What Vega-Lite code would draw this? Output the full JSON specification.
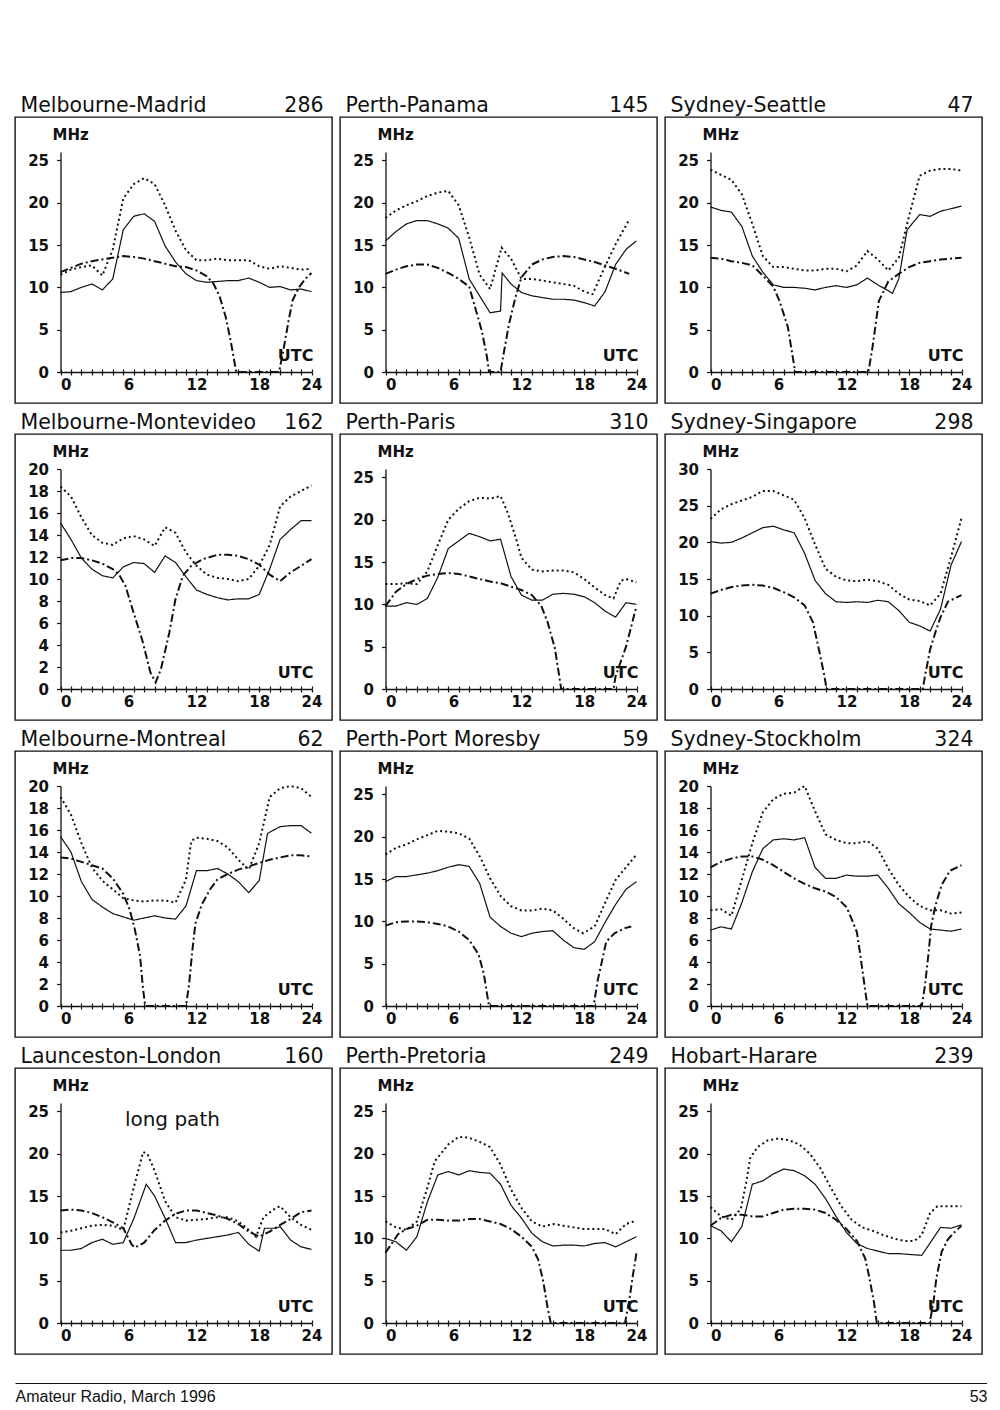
{
  "$schema": "https://vega.github.io/schema/vega-lite/v6.json",
  "background": "white",
  "padding": {"left": 12, "top": 94, "right": 0, "bottom": 0},
  "datasets": {
    "mm": [
      {"s":"mid","h":0,"v":9.4},{"s":"mid","h":1,"v":9.5},{"s":"mid","h":2,"v":10.0},{"s":"mid","h":3,"v":10.4},{"s":"mid","h":4,"v":9.7},{"s":"mid","h":5,"v":11.0},{"s":"mid","h":6,"v":16.8},{"s":"mid","h":7,"v":18.4},{"s":"mid","h":8,"v":18.7},{"s":"mid","h":9,"v":17.8},{"s":"mid","h":10,"v":14.9},{"s":"mid","h":11,"v":13.0},{"s":"mid","h":12,"v":11.6},{"s":"mid","h":13,"v":10.8},{"s":"mid","h":14,"v":10.6},{"s":"mid","h":15,"v":10.7},{"s":"mid","h":16,"v":10.8},{"s":"mid","h":17,"v":10.8},{"s":"mid","h":18,"v":11.1},{"s":"mid","h":19,"v":10.6},{"s":"mid","h":20,"v":10.0},{"s":"mid","h":21,"v":10.1},{"s":"mid","h":22,"v":9.7},{"s":"mid","h":23,"v":9.8},{"s":"mid","h":24,"v":9.5},
      {"s":"hi","h":0,"v":11.5},{"s":"hi","h":1,"v":12.1},{"s":"hi","h":2,"v":12.4},{"s":"hi","h":3,"v":12.6},{"s":"hi","h":4,"v":11.4},{"s":"hi","h":5,"v":14.5},{"s":"hi","h":6,"v":20.5},{"s":"hi","h":7,"v":22.2},{"s":"hi","h":8,"v":22.9},{"s":"hi","h":9,"v":22.2},{"s":"hi","h":10,"v":19.7},{"s":"hi","h":11,"v":16.7},{"s":"hi","h":12,"v":14.4},{"s":"hi","h":13,"v":13.2},{"s":"hi","h":14,"v":13.2},{"s":"hi","h":15,"v":13.4},{"s":"hi","h":16,"v":13.2},{"s":"hi","h":17,"v":13.2},{"s":"hi","h":18,"v":13.2},{"s":"hi","h":19,"v":12.5},{"s":"hi","h":20,"v":12.2},{"s":"hi","h":21,"v":12.5},{"s":"hi","h":22,"v":12.3},{"s":"hi","h":23,"v":12.1},{"s":"hi","h":24,"v":12.2},
      {"s":"lo","h":0,"v":11.8},{"s":"lo","h":1,"v":12.3},{"s":"lo","h":2,"v":12.8},{"s":"lo","h":3,"v":13.1},{"s":"lo","h":4,"v":13.3},{"s":"lo","h":5,"v":13.5},{"s":"lo","h":6,"v":13.7},{"s":"lo","h":7,"v":13.6},{"s":"lo","h":8,"v":13.4},{"s":"lo","h":9,"v":13.1},{"s":"lo","h":10,"v":12.8},{"s":"lo","h":11,"v":12.5},{"s":"lo","h":12,"v":12.4},{"s":"lo","h":13,"v":12.0},{"s":"lo","h":14,"v":11.3},{"s":"lo","h":14.6,"v":10.5},{"s":"lo","h":15.2,"v":9.0},{"s":"lo","h":15.8,"v":6.5},{"s":"lo","h":16.3,"v":3.5},{"s":"lo","h":16.8,"v":0},{"s":"lo","h":20.9,"v":0},{"s":"lo","h":21.3,"v":2.5},{"s":"lo","h":21.8,"v":6.0},{"s":"lo","h":22.2,"v":8.5},{"s":"lo","h":22.8,"v":10.0},{"s":"lo","h":23.4,"v":11.0},{"s":"lo","h":24,"v":11.7}
    ],
    "pp": [
      {"s":"mid","h":0,"v":15.5},{"s":"mid","h":1,"v":16.6},{"s":"mid","h":2,"v":17.5},{"s":"mid","h":3,"v":17.9},{"s":"mid","h":4,"v":17.9},{"s":"mid","h":5,"v":17.5},{"s":"mid","h":6,"v":17.0},{"s":"mid","h":7,"v":15.8},{"s":"mid","h":8,"v":11.0},{"s":"mid","h":9,"v":9.0},{"s":"mid","h":10,"v":7.0},{"s":"mid","h":11,"v":7.2},{"s":"mid","h":11.15,"v":11.7},{"s":"mid","h":12,"v":10.4},{"s":"mid","h":13,"v":9.4},{"s":"mid","h":14,"v":9.0},{"s":"mid","h":15,"v":8.8},{"s":"mid","h":16,"v":8.6},{"s":"mid","h":17,"v":8.6},{"s":"mid","h":18,"v":8.5},{"s":"mid","h":19,"v":8.2},{"s":"mid","h":20,"v":7.8},{"s":"mid","h":21,"v":9.5},{"s":"mid","h":22,"v":12.7},{"s":"mid","h":23,"v":14.5},{"s":"mid","h":24,"v":15.5},
      {"s":"hi","h":0,"v":18.2},{"s":"hi","h":1,"v":19.1},{"s":"hi","h":2,"v":19.7},{"s":"hi","h":3,"v":20.2},{"s":"hi","h":4,"v":20.8},{"s":"hi","h":5,"v":21.2},{"s":"hi","h":6,"v":21.4},{"s":"hi","h":7,"v":19.7},{"s":"hi","h":8,"v":15.9},{"s":"hi","h":9,"v":11.5},{"s":"hi","h":10,"v":9.8},{"s":"hi","h":11.1,"v":14.7},{"s":"hi","h":12,"v":13.4},{"s":"hi","h":13,"v":11.0},{"s":"hi","h":14,"v":11.0},{"s":"hi","h":15,"v":10.8},{"s":"hi","h":16,"v":10.6},{"s":"hi","h":17,"v":10.4},{"s":"hi","h":18,"v":10.2},{"s":"hi","h":19,"v":9.5},{"s":"hi","h":19.8,"v":9.2},{"s":"hi","h":21,"v":12.5},{"s":"hi","h":22,"v":15.1},{"s":"hi","h":23.3,"v":18.0},
      {"s":"lo","h":0,"v":11.6},{"s":"lo","h":1,"v":12.1},{"s":"lo","h":2,"v":12.5},{"s":"lo","h":3,"v":12.7},{"s":"lo","h":4,"v":12.7},{"s":"lo","h":5,"v":12.3},{"s":"lo","h":6,"v":11.7},{"s":"lo","h":7,"v":11.0},{"s":"lo","h":8,"v":10.1},{"s":"lo","h":8.6,"v":7.5},{"s":"lo","h":9.2,"v":4.9},{"s":"lo","h":9.7,"v":1.8},{"s":"lo","h":9.9,"v":0},{"s":"lo","h":11.0,"v":0},{"s":"lo","h":11.3,"v":2.2},{"s":"lo","h":11.8,"v":5.6},{"s":"lo","h":12.4,"v":8.7},{"s":"lo","h":13,"v":11.2},{"s":"lo","h":14,"v":12.7},{"s":"lo","h":15,"v":13.3},{"s":"lo","h":16,"v":13.6},{"s":"lo","h":17,"v":13.7},{"s":"lo","h":18,"v":13.6},{"s":"lo","h":19,"v":13.3},{"s":"lo","h":20,"v":13.0},{"s":"lo","h":21,"v":12.6},{"s":"lo","h":22,"v":12.2},{"s":"lo","h":23.3,"v":11.6}
    ],
    "ss": [
      {"s":"mid","h":0,"v":19.5},{"s":"mid","h":1,"v":19.1},{"s":"mid","h":2,"v":18.9},{"s":"mid","h":3,"v":17.2},{"s":"mid","h":4,"v":13.7},{"s":"mid","h":5,"v":11.8},{"s":"mid","h":6,"v":10.3},{"s":"mid","h":7,"v":10.0},{"s":"mid","h":8,"v":10.0},{"s":"mid","h":9,"v":9.9},{"s":"mid","h":10,"v":9.7},{"s":"mid","h":11,"v":10.0},{"s":"mid","h":12,"v":10.2},{"s":"mid","h":13,"v":10.0},{"s":"mid","h":14,"v":10.3},{"s":"mid","h":15,"v":11.1},{"s":"mid","h":16,"v":10.3},{"s":"mid","h":17,"v":9.6},{"s":"mid","h":17.4,"v":9.3},{"s":"mid","h":18,"v":11.0},{"s":"mid","h":18.8,"v":16.8},{"s":"mid","h":20,"v":18.6},{"s":"mid","h":21,"v":18.4},{"s":"mid","h":22,"v":19.0},{"s":"mid","h":23,"v":19.3},{"s":"mid","h":24,"v":19.6},
      {"s":"hi","h":0,"v":23.9},{"s":"hi","h":1,"v":23.3},{"s":"hi","h":2,"v":22.7},{"s":"hi","h":3,"v":21.0},{"s":"hi","h":4,"v":17.5},{"s":"hi","h":5,"v":13.7},{"s":"hi","h":6,"v":12.4},{"s":"hi","h":7,"v":12.4},{"s":"hi","h":8,"v":12.2},{"s":"hi","h":9,"v":12.0},{"s":"hi","h":10,"v":12.0},{"s":"hi","h":11,"v":12.2},{"s":"hi","h":12,"v":12.2},{"s":"hi","h":13,"v":11.9},{"s":"hi","h":14,"v":12.6},{"s":"hi","h":15,"v":14.3},{"s":"hi","h":16,"v":13.3},{"s":"hi","h":17,"v":12.0},{"s":"hi","h":18,"v":13.5},{"s":"hi","h":19,"v":18.5},{"s":"hi","h":20,"v":23.2},{"s":"hi","h":21,"v":23.8},{"s":"hi","h":22,"v":24.0},{"s":"hi","h":23,"v":24.0},{"s":"hi","h":24,"v":23.8},
      {"s":"lo","h":0,"v":13.5},{"s":"lo","h":1,"v":13.4},{"s":"lo","h":2,"v":13.1},{"s":"lo","h":3,"v":12.9},{"s":"lo","h":4,"v":12.6},{"s":"lo","h":5,"v":11.4},{"s":"lo","h":6,"v":10.1},{"s":"lo","h":6.6,"v":8.4},{"s":"lo","h":7.4,"v":5.3},{"s":"lo","h":7.9,"v":1.5},{"s":"lo","h":8.1,"v":0},{"s":"lo","h":15.1,"v":0},{"s":"lo","h":15.5,"v":3.0},{"s":"lo","h":16.1,"v":8.4},{"s":"lo","h":17,"v":10.7},{"s":"lo","h":18,"v":11.6},{"s":"lo","h":19,"v":12.4},{"s":"lo","h":20,"v":12.9},{"s":"lo","h":21,"v":13.1},{"s":"lo","h":22,"v":13.3},{"s":"lo","h":23,"v":13.4},{"s":"lo","h":24,"v":13.5}
    ],
    "mv": [
      {"s":"mid","h":0,"v":15.1},{"s":"mid","h":1,"v":13.6},{"s":"mid","h":2,"v":11.9},{"s":"mid","h":3,"v":10.9},{"s":"mid","h":4,"v":10.3},{"s":"mid","h":5,"v":10.1},{"s":"mid","h":6,"v":11.1},{"s":"mid","h":7,"v":11.5},{"s":"mid","h":8,"v":11.4},{"s":"mid","h":9,"v":10.6},{"s":"mid","h":10,"v":12.1},{"s":"mid","h":11,"v":11.5},{"s":"mid","h":12,"v":10.2},{"s":"mid","h":13,"v":9.0},{"s":"mid","h":14,"v":8.6},{"s":"mid","h":15,"v":8.3},{"s":"mid","h":16,"v":8.1},{"s":"mid","h":17,"v":8.2},{"s":"mid","h":18,"v":8.2},{"s":"mid","h":19,"v":8.6},{"s":"mid","h":20,"v":10.9},{"s":"mid","h":21,"v":13.6},{"s":"mid","h":22,"v":14.5},{"s":"mid","h":23,"v":15.3},{"s":"mid","h":24,"v":15.3},
      {"s":"hi","h":0,"v":18.4},{"s":"hi","h":1,"v":17.5},{"s":"hi","h":2,"v":15.6},{"s":"hi","h":3,"v":14.0},{"s":"hi","h":4,"v":13.3},{"s":"hi","h":5,"v":13.1},{"s":"hi","h":6,"v":13.7},{"s":"hi","h":7,"v":13.9},{"s":"hi","h":8,"v":13.6},{"s":"hi","h":9,"v":13.0},{"s":"hi","h":10,"v":14.7},{"s":"hi","h":11,"v":14.2},{"s":"hi","h":12,"v":12.4},{"s":"hi","h":13,"v":11.2},{"s":"hi","h":14,"v":10.4},{"s":"hi","h":15,"v":10.1},{"s":"hi","h":16,"v":10.0},{"s":"hi","h":17,"v":9.8},{"s":"hi","h":18,"v":10.0},{"s":"hi","h":19,"v":11.2},{"s":"hi","h":20,"v":13.1},{"s":"hi","h":21,"v":16.6},{"s":"hi","h":22,"v":17.5},{"s":"hi","h":23,"v":18.0},{"s":"hi","h":24,"v":18.5},
      {"s":"lo","h":0,"v":11.7},{"s":"lo","h":1,"v":11.9},{"s":"lo","h":2,"v":11.9},{"s":"lo","h":3,"v":11.7},{"s":"lo","h":4,"v":11.4},{"s":"lo","h":5,"v":10.9},{"s":"lo","h":5.6,"v":10.4},{"s":"lo","h":6.2,"v":9.4},{"s":"lo","h":7,"v":6.9},{"s":"lo","h":7.8,"v":4.5},{"s":"lo","h":8.6,"v":1.5},{"s":"lo","h":9.1,"v":0.6},{"s":"lo","h":9.6,"v":1.8},{"s":"lo","h":10.4,"v":5.1},{"s":"lo","h":11,"v":8.2},{"s":"lo","h":11.7,"v":10.3},{"s":"lo","h":12.5,"v":11.2},{"s":"lo","h":13.6,"v":11.8},{"s":"lo","h":15,"v":12.2},{"s":"lo","h":16,"v":12.2},{"s":"lo","h":17,"v":12.1},{"s":"lo","h":18,"v":11.8},{"s":"lo","h":19,"v":11.3},{"s":"lo","h":20,"v":10.4},{"s":"lo","h":21,"v":9.8},{"s":"lo","h":22,"v":10.6},{"s":"lo","h":23,"v":11.2},{"s":"lo","h":24,"v":11.8}
    ],
    "pa": [
      {"s":"mid","h":0,"v":9.8},{"s":"mid","h":1,"v":9.8},{"s":"mid","h":2,"v":10.2},{"s":"mid","h":3,"v":10.0},{"s":"mid","h":4,"v":10.7},{"s":"mid","h":5,"v":13.2},{"s":"mid","h":6,"v":16.6},{"s":"mid","h":7,"v":17.5},{"s":"mid","h":8,"v":18.4},{"s":"mid","h":9,"v":18.0},{"s":"mid","h":10,"v":17.5},{"s":"mid","h":11,"v":17.7},{"s":"mid","h":12,"v":13.3},{"s":"mid","h":13,"v":11.1},{"s":"mid","h":14,"v":10.5},{"s":"mid","h":15,"v":10.5},{"s":"mid","h":16,"v":11.2},{"s":"mid","h":17,"v":11.3},{"s":"mid","h":18,"v":11.2},{"s":"mid","h":19,"v":10.9},{"s":"mid","h":20,"v":10.2},{"s":"mid","h":21,"v":9.2},{"s":"mid","h":22,"v":8.5},{"s":"mid","h":23,"v":10.2},{"s":"mid","h":24,"v":10.0},
      {"s":"hi","h":0,"v":12.4},{"s":"hi","h":1,"v":12.4},{"s":"hi","h":2,"v":12.5},{"s":"hi","h":3,"v":12.4},{"s":"hi","h":4,"v":13.9},{"s":"hi","h":5,"v":17.0},{"s":"hi","h":6,"v":20.0},{"s":"hi","h":7,"v":21.3},{"s":"hi","h":8,"v":22.2},{"s":"hi","h":9,"v":22.6},{"s":"hi","h":10,"v":22.5},{"s":"hi","h":11,"v":22.8},{"s":"hi","h":11.7,"v":20.8},{"s":"hi","h":12.5,"v":17.7},{"s":"hi","h":13,"v":15.5},{"s":"hi","h":14,"v":14.1},{"s":"hi","h":15,"v":13.9},{"s":"hi","h":16,"v":14.0},{"s":"hi","h":17,"v":14.0},{"s":"hi","h":18,"v":13.8},{"s":"hi","h":19,"v":13.0},{"s":"hi","h":20,"v":12.0},{"s":"hi","h":21,"v":11.1},{"s":"hi","h":21.8,"v":10.7},{"s":"hi","h":22.5,"v":12.8},{"s":"hi","h":23,"v":13.0},{"s":"hi","h":24,"v":12.6},
      {"s":"lo","h":0,"v":9.8},{"s":"lo","h":1,"v":11.5},{"s":"lo","h":2,"v":12.4},{"s":"lo","h":3,"v":13.0},{"s":"lo","h":4,"v":13.4},{"s":"lo","h":5,"v":13.6},{"s":"lo","h":6,"v":13.7},{"s":"lo","h":7,"v":13.6},{"s":"lo","h":8,"v":13.3},{"s":"lo","h":9,"v":13.0},{"s":"lo","h":10,"v":12.7},{"s":"lo","h":11,"v":12.5},{"s":"lo","h":12,"v":12.1},{"s":"lo","h":13,"v":11.7},{"s":"lo","h":14,"v":11.1},{"s":"lo","h":14.9,"v":9.8},{"s":"lo","h":15.5,"v":7.9},{"s":"lo","h":16.2,"v":4.8},{"s":"lo","h":16.8,"v":0},{"s":"lo","h":21.8,"v":0},{"s":"lo","h":22,"v":1.5},{"s":"lo","h":23,"v":5.0},{"s":"lo","h":24,"v":9.8}
    ],
    "sg": [
      {"s":"mid","h":0,"v":20.1},{"s":"mid","h":1,"v":19.9},{"s":"mid","h":2,"v":20.0},{"s":"mid","h":3,"v":20.6},{"s":"mid","h":4,"v":21.3},{"s":"mid","h":5,"v":22.0},{"s":"mid","h":6,"v":22.2},{"s":"mid","h":7,"v":21.7},{"s":"mid","h":8,"v":21.3},{"s":"mid","h":9,"v":18.5},{"s":"mid","h":10,"v":14.8},{"s":"mid","h":11,"v":13.0},{"s":"mid","h":12,"v":11.9},{"s":"mid","h":13,"v":11.8},{"s":"mid","h":14,"v":11.9},{"s":"mid","h":15,"v":11.8},{"s":"mid","h":16,"v":12.1},{"s":"mid","h":17,"v":11.9},{"s":"mid","h":18,"v":10.7},{"s":"mid","h":19,"v":9.1},{"s":"mid","h":20,"v":8.6},{"s":"mid","h":21,"v":7.9},{"s":"mid","h":22,"v":10.9},{"s":"mid","h":23,"v":16.9},{"s":"mid","h":24,"v":20.1},
      {"s":"hi","h":0,"v":23.2},{"s":"hi","h":1,"v":24.5},{"s":"hi","h":2,"v":25.2},{"s":"hi","h":3,"v":25.7},{"s":"hi","h":4,"v":26.2},{"s":"hi","h":5,"v":27.0},{"s":"hi","h":6,"v":27.0},{"s":"hi","h":7,"v":26.4},{"s":"hi","h":8,"v":25.8},{"s":"hi","h":9,"v":23.3},{"s":"hi","h":10,"v":19.7},{"s":"hi","h":11,"v":16.4},{"s":"hi","h":12,"v":15.3},{"s":"hi","h":13,"v":14.8},{"s":"hi","h":14,"v":14.7},{"s":"hi","h":15,"v":14.9},{"s":"hi","h":16,"v":14.7},{"s":"hi","h":17,"v":14.2},{"s":"hi","h":18,"v":13.0},{"s":"hi","h":19,"v":12.2},{"s":"hi","h":20,"v":12.0},{"s":"hi","h":21,"v":11.4},{"s":"hi","h":22,"v":13.0},{"s":"hi","h":23,"v":18.0},{"s":"hi","h":24,"v":23.3},
      {"s":"lo","h":0,"v":13.0},{"s":"lo","h":1,"v":13.5},{"s":"lo","h":2,"v":13.9},{"s":"lo","h":3,"v":14.1},{"s":"lo","h":4,"v":14.2},{"s":"lo","h":5,"v":14.1},{"s":"lo","h":6,"v":13.8},{"s":"lo","h":7,"v":13.2},{"s":"lo","h":8,"v":12.5},{"s":"lo","h":9,"v":11.4},{"s":"lo","h":9.8,"v":9.1},{"s":"lo","h":10.5,"v":4.5},{"s":"lo","h":10.9,"v":1.7},{"s":"lo","h":11.1,"v":0},{"s":"lo","h":20.3,"v":0},{"s":"lo","h":20.5,"v":1.7},{"s":"lo","h":21,"v":5.4},{"s":"lo","h":21.5,"v":7.7},{"s":"lo","h":22,"v":9.8},{"s":"lo","h":22.7,"v":11.9},{"s":"lo","h":24,"v":12.8}
    ],
    "mo": [
      {"s":"mid","h":0,"v":15.4},{"s":"mid","h":1,"v":14.0},{"s":"mid","h":2,"v":11.3},{"s":"mid","h":3,"v":9.7},{"s":"mid","h":4,"v":9.0},{"s":"mid","h":5,"v":8.4},{"s":"mid","h":6,"v":8.1},{"s":"mid","h":7,"v":7.8},{"s":"mid","h":8,"v":8.0},{"s":"mid","h":9,"v":8.2},{"s":"mid","h":10,"v":8.0},{"s":"mid","h":11,"v":7.9},{"s":"mid","h":12,"v":9.1},{"s":"mid","h":13,"v":12.3},{"s":"mid","h":14,"v":12.3},{"s":"mid","h":15,"v":12.5},{"s":"mid","h":16,"v":12.0},{"s":"mid","h":17,"v":11.3},{"s":"mid","h":18,"v":10.3},{"s":"mid","h":19,"v":11.4},{"s":"mid","h":19.8,"v":15.7},{"s":"mid","h":21,"v":16.3},{"s":"mid","h":22,"v":16.4},{"s":"mid","h":23,"v":16.4},{"s":"mid","h":24,"v":15.7},
      {"s":"hi","h":0,"v":19.0},{"s":"hi","h":1,"v":17.4},{"s":"hi","h":2,"v":14.8},{"s":"hi","h":3,"v":12.6},{"s":"hi","h":4,"v":11.4},{"s":"hi","h":5,"v":10.6},{"s":"hi","h":6,"v":9.8},{"s":"hi","h":7,"v":9.6},{"s":"hi","h":8,"v":9.5},{"s":"hi","h":9,"v":9.6},{"s":"hi","h":10,"v":9.6},{"s":"hi","h":11,"v":9.4},{"s":"hi","h":12,"v":11.5},{"s":"hi","h":12.5,"v":15.0},{"s":"hi","h":13,"v":15.3},{"s":"hi","h":14,"v":15.2},{"s":"hi","h":15,"v":15.0},{"s":"hi","h":16,"v":14.4},{"s":"hi","h":17,"v":13.3},{"s":"hi","h":18,"v":12.4},{"s":"hi","h":19,"v":14.8},{"s":"hi","h":20,"v":19.0},{"s":"hi","h":21,"v":19.8},{"s":"hi","h":22,"v":20.0},{"s":"hi","h":23,"v":19.8},{"s":"hi","h":24,"v":19.0},
      {"s":"lo","h":0,"v":13.5},{"s":"lo","h":1,"v":13.4},{"s":"lo","h":2,"v":13.1},{"s":"lo","h":3,"v":12.8},{"s":"lo","h":4,"v":12.5},{"s":"lo","h":5,"v":11.6},{"s":"lo","h":6,"v":10.2},{"s":"lo","h":6.6,"v":8.8},{"s":"lo","h":7.1,"v":7.0},{"s":"lo","h":7.6,"v":4.6},{"s":"lo","h":7.9,"v":1.5},{"s":"lo","h":8.1,"v":0},{"s":"lo","h":12.0,"v":0},{"s":"lo","h":12.3,"v":2.0},{"s":"lo","h":12.6,"v":5.0},{"s":"lo","h":12.9,"v":7.5},{"s":"lo","h":13.5,"v":9.2},{"s":"lo","h":14.3,"v":10.6},{"s":"lo","h":15,"v":11.5},{"s":"lo","h":16,"v":12.0},{"s":"lo","h":17,"v":12.4},{"s":"lo","h":18,"v":12.7},{"s":"lo","h":19,"v":13.0},{"s":"lo","h":20,"v":13.3},{"s":"lo","h":21,"v":13.5},{"s":"lo","h":22,"v":13.7},{"s":"lo","h":23,"v":13.7},{"s":"lo","h":24,"v":13.6}
    ],
    "pm": [
      {"s":"mid","h":0,"v":14.7},{"s":"mid","h":1,"v":15.3},{"s":"mid","h":2,"v":15.3},{"s":"mid","h":3,"v":15.5},{"s":"mid","h":4,"v":15.7},{"s":"mid","h":5,"v":16.0},{"s":"mid","h":6,"v":16.4},{"s":"mid","h":7,"v":16.7},{"s":"mid","h":8,"v":16.5},{"s":"mid","h":9,"v":14.5},{"s":"mid","h":10,"v":10.5},{"s":"mid","h":11,"v":9.4},{"s":"mid","h":12,"v":8.6},{"s":"mid","h":13,"v":8.2},{"s":"mid","h":14,"v":8.6},{"s":"mid","h":15,"v":8.8},{"s":"mid","h":16,"v":8.9},{"s":"mid","h":17,"v":7.8},{"s":"mid","h":18,"v":6.9},{"s":"mid","h":19,"v":6.7},{"s":"mid","h":20,"v":7.6},{"s":"mid","h":21,"v":9.9},{"s":"mid","h":22,"v":12.0},{"s":"mid","h":23,"v":13.8},{"s":"mid","h":24,"v":14.7},
      {"s":"hi","h":0,"v":17.9},{"s":"hi","h":1,"v":18.7},{"s":"hi","h":2,"v":19.1},{"s":"hi","h":3,"v":19.7},{"s":"hi","h":4,"v":20.2},{"s":"hi","h":5,"v":20.7},{"s":"hi","h":6,"v":20.6},{"s":"hi","h":7,"v":20.4},{"s":"hi","h":8,"v":19.8},{"s":"hi","h":9,"v":17.7},{"s":"hi","h":10,"v":15.1},{"s":"hi","h":11,"v":13.0},{"s":"hi","h":12,"v":11.8},{"s":"hi","h":13,"v":11.3},{"s":"hi","h":14,"v":11.3},{"s":"hi","h":15,"v":11.5},{"s":"hi","h":16,"v":11.3},{"s":"hi","h":17,"v":10.3},{"s":"hi","h":18,"v":9.2},{"s":"hi","h":18.9,"v":8.6},{"s":"hi","h":20,"v":9.4},{"s":"hi","h":21,"v":12.2},{"s":"hi","h":22,"v":14.9},{"s":"hi","h":23,"v":16.4},{"s":"hi","h":24,"v":17.9},
      {"s":"lo","h":0,"v":9.5},{"s":"lo","h":1,"v":9.9},{"s":"lo","h":2,"v":10.0},{"s":"lo","h":3,"v":10.0},{"s":"lo","h":4,"v":9.9},{"s":"lo","h":5,"v":9.7},{"s":"lo","h":6,"v":9.4},{"s":"lo","h":7,"v":8.8},{"s":"lo","h":8,"v":7.8},{"s":"lo","h":8.9,"v":6.1},{"s":"lo","h":9.4,"v":3.8},{"s":"lo","h":9.7,"v":1.5},{"s":"lo","h":9.9,"v":0},{"s":"lo","h":19.9,"v":0},{"s":"lo","h":20.3,"v":3.1},{"s":"lo","h":20.7,"v":5.3},{"s":"lo","h":21.1,"v":7.6},{"s":"lo","h":21.9,"v":8.6},{"s":"lo","h":22.9,"v":9.2},{"s":"lo","h":23.5,"v":9.4}
    ],
    "st": [
      {"s":"mid","h":0,"v":6.9},{"s":"mid","h":1,"v":7.2},{"s":"mid","h":2,"v":7.0},{"s":"mid","h":3,"v":9.4},{"s":"mid","h":4,"v":12.2},{"s":"mid","h":5,"v":14.3},{"s":"mid","h":6,"v":15.1},{"s":"mid","h":7,"v":15.2},{"s":"mid","h":8,"v":15.1},{"s":"mid","h":9,"v":15.3},{"s":"mid","h":10,"v":12.6},{"s":"mid","h":11,"v":11.6},{"s":"mid","h":12,"v":11.6},{"s":"mid","h":13,"v":11.9},{"s":"mid","h":14,"v":11.8},{"s":"mid","h":15,"v":11.8},{"s":"mid","h":16,"v":11.9},{"s":"mid","h":17,"v":10.7},{"s":"mid","h":18,"v":9.3},{"s":"mid","h":19,"v":8.5},{"s":"mid","h":20,"v":7.6},{"s":"mid","h":21,"v":7.0},{"s":"mid","h":22,"v":6.9},{"s":"mid","h":23,"v":6.8},{"s":"mid","h":24,"v":7.0},
      {"s":"hi","h":0,"v":8.7},{"s":"hi","h":1,"v":8.8},{"s":"hi","h":2,"v":8.2},{"s":"hi","h":3,"v":11.5},{"s":"hi","h":4,"v":14.8},{"s":"hi","h":5,"v":17.6},{"s":"hi","h":6,"v":18.8},{"s":"hi","h":7,"v":19.3},{"s":"hi","h":8,"v":19.4},{"s":"hi","h":9,"v":20.0},{"s":"hi","h":10,"v":17.7},{"s":"hi","h":11,"v":15.6},{"s":"hi","h":12,"v":15.1},{"s":"hi","h":13,"v":14.8},{"s":"hi","h":14,"v":14.8},{"s":"hi","h":15,"v":15.0},{"s":"hi","h":16,"v":14.3},{"s":"hi","h":17,"v":12.5},{"s":"hi","h":18,"v":11.0},{"s":"hi","h":19,"v":9.9},{"s":"hi","h":20,"v":9.1},{"s":"hi","h":21,"v":8.7},{"s":"hi","h":22,"v":8.7},{"s":"hi","h":23,"v":8.4},{"s":"hi","h":24,"v":8.5},
      {"s":"lo","h":0,"v":12.6},{"s":"lo","h":1,"v":13.1},{"s":"lo","h":2,"v":13.4},{"s":"lo","h":3,"v":13.6},{"s":"lo","h":4,"v":13.6},{"s":"lo","h":5,"v":13.3},{"s":"lo","h":6,"v":12.8},{"s":"lo","h":7,"v":12.2},{"s":"lo","h":8,"v":11.6},{"s":"lo","h":9,"v":11.1},{"s":"lo","h":10,"v":10.7},{"s":"lo","h":11,"v":10.4},{"s":"lo","h":12,"v":9.9},{"s":"lo","h":13,"v":9.0},{"s":"lo","h":13.5,"v":7.9},{"s":"lo","h":14,"v":6.7},{"s":"lo","h":14.3,"v":4.8},{"s":"lo","h":14.65,"v":2.4},{"s":"lo","h":15,"v":0},{"s":"lo","h":20.2,"v":0},{"s":"lo","h":20.5,"v":1.8},{"s":"lo","h":20.85,"v":4.8},{"s":"lo","h":21.1,"v":7.3},{"s":"lo","h":21.5,"v":9.1},{"s":"lo","h":22.1,"v":11.0},{"s":"lo","h":22.9,"v":12.3},{"s":"lo","h":24,"v":12.8}
    ],
    "ll": [
      {"s":"mid","h":0,"v":8.6},{"s":"mid","h":1,"v":8.6},{"s":"mid","h":2,"v":8.8},{"s":"mid","h":3,"v":9.5},{"s":"mid","h":4,"v":9.9},{"s":"mid","h":5,"v":9.3},{"s":"mid","h":6,"v":9.5},{"s":"mid","h":7,"v":12.3},{"s":"mid","h":8.2,"v":16.4},{"s":"mid","h":9,"v":15.0},{"s":"mid","h":10,"v":12.4},{"s":"mid","h":11,"v":9.5},{"s":"mid","h":12,"v":9.5},{"s":"mid","h":13,"v":9.8},{"s":"mid","h":14,"v":10.0},{"s":"mid","h":15,"v":10.2},{"s":"mid","h":16,"v":10.4},{"s":"mid","h":17,"v":10.7},{"s":"mid","h":18,"v":9.3},{"s":"mid","h":19,"v":8.5},{"s":"mid","h":19.5,"v":11.2},{"s":"mid","h":20.6,"v":11.2},{"s":"mid","h":21,"v":11.4},{"s":"mid","h":22,"v":9.8},{"s":"mid","h":23,"v":9.0},{"s":"mid","h":24,"v":8.7},
      {"s":"hi","h":0,"v":10.7},{"s":"hi","h":1,"v":10.9},{"s":"hi","h":2,"v":11.2},{"s":"hi","h":3,"v":11.5},{"s":"hi","h":4,"v":11.6},{"s":"hi","h":5,"v":11.5},{"s":"hi","h":6,"v":11.0},{"s":"hi","h":7,"v":16.0},{"s":"hi","h":7.9,"v":20.2},{"s":"hi","h":8.3,"v":20.0},{"s":"hi","h":9,"v":18.0},{"s":"hi","h":10,"v":14.4},{"s":"hi","h":11,"v":12.5},{"s":"hi","h":12,"v":12.1},{"s":"hi","h":13,"v":12.2},{"s":"hi","h":14,"v":12.3},{"s":"hi","h":15,"v":12.5},{"s":"hi","h":16,"v":12.5},{"s":"hi","h":17,"v":12.0},{"s":"hi","h":18,"v":11.0},{"s":"hi","h":18.7,"v":10.2},{"s":"hi","h":19.4,"v":12.5},{"s":"hi","h":20.6,"v":13.6},{"s":"hi","h":21,"v":13.8},{"s":"hi","h":22,"v":12.5},{"s":"hi","h":23,"v":11.6},{"s":"hi","h":24,"v":11.0},
      {"s":"lo","h":0,"v":13.3},{"s":"lo","h":1,"v":13.4},{"s":"lo","h":2,"v":13.3},{"s":"lo","h":3,"v":13.0},{"s":"lo","h":4,"v":12.5},{"s":"lo","h":5,"v":11.9},{"s":"lo","h":6,"v":11.2},{"s":"lo","h":6.8,"v":9.3},{"s":"lo","h":7.1,"v":8.9},{"s":"lo","h":8,"v":9.5},{"s":"lo","h":9,"v":11.0},{"s":"lo","h":10,"v":12.1},{"s":"lo","h":11,"v":12.9},{"s":"lo","h":12,"v":13.3},{"s":"lo","h":13,"v":13.3},{"s":"lo","h":14,"v":13.0},{"s":"lo","h":15,"v":12.7},{"s":"lo","h":16,"v":12.3},{"s":"lo","h":17,"v":11.7},{"s":"lo","h":18,"v":10.8},{"s":"lo","h":19,"v":10.2},{"s":"lo","h":20,"v":10.8},{"s":"lo","h":21,"v":11.6},{"s":"lo","h":22,"v":12.3},{"s":"lo","h":23,"v":13.1},{"s":"lo","h":24,"v":13.3}
    ],
    "pr": [
      {"s":"mid","h":0,"v":10.0},{"s":"mid","h":1,"v":9.6},{"s":"mid","h":2,"v":8.6},{"s":"mid","h":3,"v":10.2},{"s":"mid","h":4,"v":14.3},{"s":"mid","h":5,"v":17.5},{"s":"mid","h":6,"v":17.9},{"s":"mid","h":7,"v":17.5},{"s":"mid","h":8,"v":18.0},{"s":"mid","h":9,"v":17.8},{"s":"mid","h":10,"v":17.7},{"s":"mid","h":11,"v":16.4},{"s":"mid","h":12,"v":13.9},{"s":"mid","h":13,"v":12.4},{"s":"mid","h":14,"v":10.6},{"s":"mid","h":15,"v":9.6},{"s":"mid","h":16,"v":9.1},{"s":"mid","h":17,"v":9.2},{"s":"mid","h":18,"v":9.2},{"s":"mid","h":19,"v":9.1},{"s":"mid","h":20,"v":9.4},{"s":"mid","h":21,"v":9.5},{"s":"mid","h":22,"v":9.0},{"s":"mid","h":23,"v":9.6},{"s":"mid","h":24,"v":10.2},
      {"s":"hi","h":0,"v":12.0},{"s":"hi","h":1,"v":11.3},{"s":"hi","h":2,"v":11.0},{"s":"hi","h":3,"v":12.0},{"s":"hi","h":4,"v":16.0},{"s":"hi","h":4.7,"v":19.1},{"s":"hi","h":6,"v":21.1},{"s":"hi","h":7,"v":22.0},{"s":"hi","h":8,"v":21.9},{"s":"hi","h":9,"v":21.4},{"s":"hi","h":10,"v":20.8},{"s":"hi","h":11,"v":18.7},{"s":"hi","h":12,"v":15.8},{"s":"hi","h":13,"v":13.6},{"s":"hi","h":14,"v":12.0},{"s":"hi","h":15,"v":11.4},{"s":"hi","h":16,"v":11.7},{"s":"hi","h":17,"v":11.5},{"s":"hi","h":18,"v":11.3},{"s":"hi","h":19,"v":11.1},{"s":"hi","h":20,"v":11.1},{"s":"hi","h":21,"v":11.1},{"s":"hi","h":22,"v":10.5},{"s":"hi","h":23,"v":11.7},{"s":"hi","h":24,"v":12.1},
      {"s":"lo","h":0,"v":8.3},{"s":"lo","h":1.2,"v":10.5},{"s":"lo","h":2,"v":11.1},{"s":"lo","h":3,"v":11.5},{"s":"lo","h":4,"v":12.2},{"s":"lo","h":5,"v":12.2},{"s":"lo","h":6,"v":12.1},{"s":"lo","h":7,"v":12.1},{"s":"lo","h":8,"v":12.3},{"s":"lo","h":9,"v":12.3},{"s":"lo","h":10,"v":12.0},{"s":"lo","h":11,"v":11.7},{"s":"lo","h":12,"v":11.1},{"s":"lo","h":13,"v":10.2},{"s":"lo","h":14,"v":9.0},{"s":"lo","h":14.6,"v":7.5},{"s":"lo","h":15.1,"v":4.8},{"s":"lo","h":15.5,"v":1.8},{"s":"lo","h":15.8,"v":0},{"s":"lo","h":22.9,"v":0},{"s":"lo","h":23.3,"v":2.6},{"s":"lo","h":23.65,"v":5.6},{"s":"lo","h":24,"v":8.3}
    ],
    "hh": [
      {"s":"mid","h":0,"v":11.5},{"s":"mid","h":1,"v":10.9},{"s":"mid","h":2,"v":9.6},{"s":"mid","h":3,"v":11.4},{"s":"mid","h":4,"v":16.4},{"s":"mid","h":5,"v":16.8},{"s":"mid","h":6,"v":17.6},{"s":"mid","h":7,"v":18.2},{"s":"mid","h":8,"v":18.0},{"s":"mid","h":9,"v":17.4},{"s":"mid","h":10,"v":16.4},{"s":"mid","h":11,"v":14.7},{"s":"mid","h":12,"v":12.6},{"s":"mid","h":13,"v":10.7},{"s":"mid","h":14,"v":9.4},{"s":"mid","h":15,"v":8.8},{"s":"mid","h":16,"v":8.5},{"s":"mid","h":17,"v":8.2},{"s":"mid","h":18,"v":8.2},{"s":"mid","h":19,"v":8.1},{"s":"mid","h":20.2,"v":8.0},{"s":"mid","h":22,"v":11.3},{"s":"mid","h":23,"v":11.2},{"s":"mid","h":24,"v":11.6},
      {"s":"hi","h":0,"v":13.7},{"s":"hi","h":1,"v":12.6},{"s":"hi","h":2,"v":12.2},{"s":"hi","h":2.9,"v":13.5},{"s":"hi","h":3.4,"v":16.5},{"s":"hi","h":3.8,"v":19.5},{"s":"hi","h":4.5,"v":20.8},{"s":"hi","h":5.5,"v":21.6},{"s":"hi","h":6.5,"v":21.8},{"s":"hi","h":7.5,"v":21.6},{"s":"hi","h":8.5,"v":21.1},{"s":"hi","h":9.5,"v":20.0},{"s":"hi","h":10.5,"v":18.3},{"s":"hi","h":11.5,"v":16.0},{"s":"hi","h":12.5,"v":13.8},{"s":"hi","h":13.5,"v":12.2},{"s":"hi","h":14.5,"v":11.3},{"s":"hi","h":15.5,"v":10.9},{"s":"hi","h":16.5,"v":10.4},{"s":"hi","h":17.5,"v":10.0},{"s":"hi","h":18.5,"v":9.7},{"s":"hi","h":19.5,"v":9.7},{"s":"hi","h":20.2,"v":10.4},{"s":"hi","h":21,"v":13.0},{"s":"hi","h":21.7,"v":13.8},{"s":"hi","h":24,"v":13.8},
      {"s":"lo","h":0,"v":11.5},{"s":"lo","h":1,"v":12.4},{"s":"lo","h":2,"v":12.8},{"s":"lo","h":3,"v":12.8},{"s":"lo","h":4,"v":12.6},{"s":"lo","h":5,"v":12.6},{"s":"lo","h":6,"v":13.0},{"s":"lo","h":7,"v":13.4},{"s":"lo","h":8,"v":13.5},{"s":"lo","h":9,"v":13.5},{"s":"lo","h":10,"v":13.4},{"s":"lo","h":11,"v":13.0},{"s":"lo","h":12,"v":12.2},{"s":"lo","h":13,"v":11.1},{"s":"lo","h":14,"v":9.7},{"s":"lo","h":14.8,"v":7.6},{"s":"lo","h":15.2,"v":5.3},{"s":"lo","h":15.65,"v":2.3},{"s":"lo","h":15.9,"v":0},{"s":"lo","h":20.95,"v":0},{"s":"lo","h":21.3,"v":2.3},{"s":"lo","h":21.6,"v":5.3},{"s":"lo","h":22.1,"v":8.4},{"s":"lo","h":22.7,"v":9.9},{"s":"lo","h":23.3,"v":10.7},{"s":"lo","h":24,"v":11.5}
    ]
  },
  "vconcat": [
    {
      "spacing": 6,
      "hconcat": [
        {
          "width": 317, "height": 286,
          "layer": [
            {"data": {"name": "mm"}, "mark": {"type": "line", "strokeCap": "butt"},
             "encoding": {
               "x": {"field": "h", "type": "quantitative", "scale": {"domain": [0, 24], "range": [45.5, 296.5]}, "axis": {"values": [0,1,2,3,4,5,6,7,8,9,10,11,12,13,14,15,16,17,18,19,20,21,22,23,24], "labelExpr": "datum.value % 6 == 0 ? datum.label : ''", "labelAlign": {"condition": {"test": "datum.value == 24", "value": "center"}, "value": "left"}, "title": "UTC"}},
               "y": {"field": "v", "type": "quantitative", "scale": {"domain": [0, 25], "range": [255, 35]}, "axis": {"values": [0,5,10,15,20,25], "title": "MHz"}},
               "strokeDash": {"field": "s", "type": "nominal", "scale": {"domain": ["mid","hi","lo"], "range": [[1,0],[2,3],[8,3,2,3]]}, "legend": null},
               "strokeWidth": {"condition": {"test": "datum.s == 'mid'", "value": 1.2}, "value": 2}
             }},
            {"data": {"values": [{}]}, "mark": {"type": "point", "opacity": 0}, "encoding": {"x": {"datum": 0, "type": "quantitative", "axis": {"orient": "bottom", "values": [0,1,2,3,4,5,6,7,8,9,10,11,12,13,14,15,16,17,18,19,20,21,22,23,24], "labels": false, "domain": false, "tickSize": -3, "title": null}}, "y": {"datum": 0, "type": "quantitative", "axis": null}}},
            {"data": {"values": [{}]}, "mark": {"type": "point", "opacity": 0}, "encoding": {"x": {"datum": 0, "type": "quantitative", "axis": {"orient": "top", "title": "Melbourne-Madrid", "titleX": 5, "titleAlign": "left"}}, "y": {"datum": 0, "type": "quantitative", "axis": null}}},
            {"data": {"values": [{}]}, "mark": {"type": "point", "opacity": 0}, "encoding": {"x": {"datum": 0, "type": "quantitative", "axis": {"orient": "top", "title": "286", "titleX": 308, "titleAlign": "right"}}, "y": {"datum": 0, "type": "quantitative", "axis": null}}}
          ],
          "resolve": {"axis": {"x": "independent", "y": "independent"}}
        },
        {
          "width": 317, "height": 286,
          "layer": [
            {"data": {"name": "pp"}, "mark": {"type": "line", "strokeCap": "butt"},
             "encoding": {
               "x": {"field": "h", "type": "quantitative", "scale": {"domain": [0, 24], "range": [45.5, 296.5]}, "axis": {"values": [0,1,2,3,4,5,6,7,8,9,10,11,12,13,14,15,16,17,18,19,20,21,22,23,24], "labelExpr": "datum.value % 6 == 0 ? datum.label : ''", "labelAlign": {"condition": {"test": "datum.value == 24", "value": "center"}, "value": "left"}, "title": "UTC"}},
               "y": {"field": "v", "type": "quantitative", "scale": {"domain": [0, 25], "range": [255, 35]}, "axis": {"values": [0,5,10,15,20,25], "title": "MHz"}},
               "strokeDash": {"field": "s", "type": "nominal", "scale": {"domain": ["mid","hi","lo"], "range": [[1,0],[2,3],[8,3,2,3]]}, "legend": null},
               "strokeWidth": {"condition": {"test": "datum.s == 'mid'", "value": 1.2}, "value": 2}
             }},
            {"data": {"values": [{}]}, "mark": {"type": "point", "opacity": 0}, "encoding": {"x": {"datum": 0, "type": "quantitative", "axis": {"orient": "bottom", "values": [0,1,2,3,4,5,6,7,8,9,10,11,12,13,14,15,16,17,18,19,20,21,22,23,24], "labels": false, "domain": false, "tickSize": -3, "title": null}}, "y": {"datum": 0, "type": "quantitative", "axis": null}}},
            {"data": {"values": [{}]}, "mark": {"type": "point", "opacity": 0}, "encoding": {"x": {"datum": 0, "type": "quantitative", "axis": {"orient": "top", "title": "Perth-Panama", "titleX": 5, "titleAlign": "left"}}, "y": {"datum": 0, "type": "quantitative", "axis": null}}},
            {"data": {"values": [{}]}, "mark": {"type": "point", "opacity": 0}, "encoding": {"x": {"datum": 0, "type": "quantitative", "axis": {"orient": "top", "title": "145", "titleX": 308, "titleAlign": "right"}}, "y": {"datum": 0, "type": "quantitative", "axis": null}}}
          ],
          "resolve": {"axis": {"x": "independent", "y": "independent"}}
        },
        {
          "width": 317, "height": 286,
          "layer": [
            {"data": {"name": "ss"}, "mark": {"type": "line", "strokeCap": "butt"},
             "encoding": {
               "x": {"field": "h", "type": "quantitative", "scale": {"domain": [0, 24], "range": [45.5, 296.5]}, "axis": {"values": [0,1,2,3,4,5,6,7,8,9,10,11,12,13,14,15,16,17,18,19,20,21,22,23,24], "labelExpr": "datum.value % 6 == 0 ? datum.label : ''", "labelAlign": {"condition": {"test": "datum.value == 24", "value": "center"}, "value": "left"}, "title": "UTC"}},
               "y": {"field": "v", "type": "quantitative", "scale": {"domain": [0, 25], "range": [255, 35]}, "axis": {"values": [0,5,10,15,20,25], "title": "MHz"}},
               "strokeDash": {"field": "s", "type": "nominal", "scale": {"domain": ["mid","hi","lo"], "range": [[1,0],[2,3],[8,3,2,3]]}, "legend": null},
               "strokeWidth": {"condition": {"test": "datum.s == 'mid'", "value": 1.2}, "value": 2}
             }},
            {"data": {"values": [{}]}, "mark": {"type": "point", "opacity": 0}, "encoding": {"x": {"datum": 0, "type": "quantitative", "axis": {"orient": "bottom", "values": [0,1,2,3,4,5,6,7,8,9,10,11,12,13,14,15,16,17,18,19,20,21,22,23,24], "labels": false, "domain": false, "tickSize": -3, "title": null}}, "y": {"datum": 0, "type": "quantitative", "axis": null}}},
            {"data": {"values": [{}]}, "mark": {"type": "point", "opacity": 0}, "encoding": {"x": {"datum": 0, "type": "quantitative", "axis": {"orient": "top", "title": "Sydney-Seattle", "titleX": 5, "titleAlign": "left"}}, "y": {"datum": 0, "type": "quantitative", "axis": null}}},
            {"data": {"values": [{}]}, "mark": {"type": "point", "opacity": 0}, "encoding": {"x": {"datum": 0, "type": "quantitative", "axis": {"orient": "top", "title": "47", "titleX": 308, "titleAlign": "right"}}, "y": {"datum": 0, "type": "quantitative", "axis": null}}}
          ],
          "resolve": {"axis": {"x": "independent", "y": "independent"}}
        }
      ]
    },
    {
      "spacing": 6,
      "hconcat": [
        {
          "width": 317, "height": 286,
          "layer": [
            {"data": {"name": "mv"}, "mark": {"type": "line", "strokeCap": "butt"},
             "encoding": {
               "x": {"field": "h", "type": "quantitative", "scale": {"domain": [0, 24], "range": [45.5, 296.5]}, "axis": {"values": [0,1,2,3,4,5,6,7,8,9,10,11,12,13,14,15,16,17,18,19,20,21,22,23,24], "labelExpr": "datum.value % 6 == 0 ? datum.label : ''", "labelAlign": {"condition": {"test": "datum.value == 24", "value": "center"}, "value": "left"}, "title": "UTC"}},
               "y": {"field": "v", "type": "quantitative", "scale": {"domain": [0, 20], "range": [255, 35]}, "axis": {"values": [0,2,4,6,8,10,12,14,16,18,20], "title": "MHz"}},
               "strokeDash": {"field": "s", "type": "nominal", "scale": {"domain": ["mid","hi","lo"], "range": [[1,0],[2,3],[8,3,2,3]]}, "legend": null},
               "strokeWidth": {"condition": {"test": "datum.s == 'mid'", "value": 1.2}, "value": 2}
             }},
            {"data": {"values": [{}]}, "mark": {"type": "point", "opacity": 0}, "encoding": {"x": {"datum": 0, "type": "quantitative", "axis": {"orient": "bottom", "values": [0,1,2,3,4,5,6,7,8,9,10,11,12,13,14,15,16,17,18,19,20,21,22,23,24], "labels": false, "domain": false, "tickSize": -3, "title": null}}, "y": {"datum": 0, "type": "quantitative", "axis": null}}},
            {"data": {"values": [{}]}, "mark": {"type": "point", "opacity": 0}, "encoding": {"x": {"datum": 0, "type": "quantitative", "axis": {"orient": "top", "title": "Melbourne-Montevideo", "titleX": 5, "titleAlign": "left"}}, "y": {"datum": 0, "type": "quantitative", "axis": null}}},
            {"data": {"values": [{}]}, "mark": {"type": "point", "opacity": 0}, "encoding": {"x": {"datum": 0, "type": "quantitative", "axis": {"orient": "top", "title": "162", "titleX": 308, "titleAlign": "right"}}, "y": {"datum": 0, "type": "quantitative", "axis": null}}}
          ],
          "resolve": {"axis": {"x": "independent", "y": "independent"}}
        },
        {
          "width": 317, "height": 286,
          "layer": [
            {"data": {"name": "pa"}, "mark": {"type": "line", "strokeCap": "butt"},
             "encoding": {
               "x": {"field": "h", "type": "quantitative", "scale": {"domain": [0, 24], "range": [45.5, 296.5]}, "axis": {"values": [0,1,2,3,4,5,6,7,8,9,10,11,12,13,14,15,16,17,18,19,20,21,22,23,24], "labelExpr": "datum.value % 6 == 0 ? datum.label : ''", "labelAlign": {"condition": {"test": "datum.value == 24", "value": "center"}, "value": "left"}, "title": "UTC"}},
               "y": {"field": "v", "type": "quantitative", "scale": {"domain": [0, 25], "range": [255, 35]}, "axis": {"values": [0,5,10,15,20,25], "title": "MHz"}},
               "strokeDash": {"field": "s", "type": "nominal", "scale": {"domain": ["mid","hi","lo"], "range": [[1,0],[2,3],[8,3,2,3]]}, "legend": null},
               "strokeWidth": {"condition": {"test": "datum.s == 'mid'", "value": 1.2}, "value": 2}
             }},
            {"data": {"values": [{}]}, "mark": {"type": "point", "opacity": 0}, "encoding": {"x": {"datum": 0, "type": "quantitative", "axis": {"orient": "bottom", "values": [0,1,2,3,4,5,6,7,8,9,10,11,12,13,14,15,16,17,18,19,20,21,22,23,24], "labels": false, "domain": false, "tickSize": -3, "title": null}}, "y": {"datum": 0, "type": "quantitative", "axis": null}}},
            {"data": {"values": [{}]}, "mark": {"type": "point", "opacity": 0}, "encoding": {"x": {"datum": 0, "type": "quantitative", "axis": {"orient": "top", "title": "Perth-Paris", "titleX": 5, "titleAlign": "left"}}, "y": {"datum": 0, "type": "quantitative", "axis": null}}},
            {"data": {"values": [{}]}, "mark": {"type": "point", "opacity": 0}, "encoding": {"x": {"datum": 0, "type": "quantitative", "axis": {"orient": "top", "title": "310", "titleX": 308, "titleAlign": "right"}}, "y": {"datum": 0, "type": "quantitative", "axis": null}}}
          ],
          "resolve": {"axis": {"x": "independent", "y": "independent"}}
        },
        {
          "width": 317, "height": 286,
          "layer": [
            {"data": {"name": "sg"}, "mark": {"type": "line", "strokeCap": "butt"},
             "encoding": {
               "x": {"field": "h", "type": "quantitative", "scale": {"domain": [0, 24], "range": [45.5, 296.5]}, "axis": {"values": [0,1,2,3,4,5,6,7,8,9,10,11,12,13,14,15,16,17,18,19,20,21,22,23,24], "labelExpr": "datum.value % 6 == 0 ? datum.label : ''", "labelAlign": {"condition": {"test": "datum.value == 24", "value": "center"}, "value": "left"}, "title": "UTC"}},
               "y": {"field": "v", "type": "quantitative", "scale": {"domain": [0, 30], "range": [255, 35]}, "axis": {"values": [0,5,10,15,20,25,30], "title": "MHz"}},
               "strokeDash": {"field": "s", "type": "nominal", "scale": {"domain": ["mid","hi","lo"], "range": [[1,0],[2,3],[8,3,2,3]]}, "legend": null},
               "strokeWidth": {"condition": {"test": "datum.s == 'mid'", "value": 1.2}, "value": 2}
             }},
            {"data": {"values": [{}]}, "mark": {"type": "point", "opacity": 0}, "encoding": {"x": {"datum": 0, "type": "quantitative", "axis": {"orient": "bottom", "values": [0,1,2,3,4,5,6,7,8,9,10,11,12,13,14,15,16,17,18,19,20,21,22,23,24], "labels": false, "domain": false, "tickSize": -3, "title": null}}, "y": {"datum": 0, "type": "quantitative", "axis": null}}},
            {"data": {"values": [{}]}, "mark": {"type": "point", "opacity": 0}, "encoding": {"x": {"datum": 0, "type": "quantitative", "axis": {"orient": "top", "title": "Sydney-Singapore", "titleX": 5, "titleAlign": "left"}}, "y": {"datum": 0, "type": "quantitative", "axis": null}}},
            {"data": {"values": [{}]}, "mark": {"type": "point", "opacity": 0}, "encoding": {"x": {"datum": 0, "type": "quantitative", "axis": {"orient": "top", "title": "298", "titleX": 308, "titleAlign": "right"}}, "y": {"datum": 0, "type": "quantitative", "axis": null}}}
          ],
          "resolve": {"axis": {"x": "independent", "y": "independent"}}
        }
      ]
    },
    {
      "spacing": 6,
      "hconcat": [
        {
          "width": 317, "height": 286,
          "layer": [
            {"data": {"name": "mo"}, "mark": {"type": "line", "strokeCap": "butt"},
             "encoding": {
               "x": {"field": "h", "type": "quantitative", "scale": {"domain": [0, 24], "range": [45.5, 296.5]}, "axis": {"values": [0,1,2,3,4,5,6,7,8,9,10,11,12,13,14,15,16,17,18,19,20,21,22,23,24], "labelExpr": "datum.value % 6 == 0 ? datum.label : ''", "labelAlign": {"condition": {"test": "datum.value == 24", "value": "center"}, "value": "left"}, "title": "UTC"}},
               "y": {"field": "v", "type": "quantitative", "scale": {"domain": [0, 20], "range": [255, 35]}, "axis": {"values": [0,2,4,6,8,10,12,14,16,18,20], "title": "MHz"}},
               "strokeDash": {"field": "s", "type": "nominal", "scale": {"domain": ["mid","hi","lo"], "range": [[1,0],[2,3],[8,3,2,3]]}, "legend": null},
               "strokeWidth": {"condition": {"test": "datum.s == 'mid'", "value": 1.2}, "value": 2}
             }},
            {"data": {"values": [{}]}, "mark": {"type": "point", "opacity": 0}, "encoding": {"x": {"datum": 0, "type": "quantitative", "axis": {"orient": "bottom", "values": [0,1,2,3,4,5,6,7,8,9,10,11,12,13,14,15,16,17,18,19,20,21,22,23,24], "labels": false, "domain": false, "tickSize": -3, "title": null}}, "y": {"datum": 0, "type": "quantitative", "axis": null}}},
            {"data": {"values": [{}]}, "mark": {"type": "point", "opacity": 0}, "encoding": {"x": {"datum": 0, "type": "quantitative", "axis": {"orient": "top", "title": "Melbourne-Montreal", "titleX": 5, "titleAlign": "left"}}, "y": {"datum": 0, "type": "quantitative", "axis": null}}},
            {"data": {"values": [{}]}, "mark": {"type": "point", "opacity": 0}, "encoding": {"x": {"datum": 0, "type": "quantitative", "axis": {"orient": "top", "title": "62", "titleX": 308, "titleAlign": "right"}}, "y": {"datum": 0, "type": "quantitative", "axis": null}}}
          ],
          "resolve": {"axis": {"x": "independent", "y": "independent"}}
        },
        {
          "width": 317, "height": 286,
          "layer": [
            {"data": {"name": "pm"}, "mark": {"type": "line", "strokeCap": "butt"},
             "encoding": {
               "x": {"field": "h", "type": "quantitative", "scale": {"domain": [0, 24], "range": [45.5, 296.5]}, "axis": {"values": [0,1,2,3,4,5,6,7,8,9,10,11,12,13,14,15,16,17,18,19,20,21,22,23,24], "labelExpr": "datum.value % 6 == 0 ? datum.label : ''", "labelAlign": {"condition": {"test": "datum.value == 24", "value": "center"}, "value": "left"}, "title": "UTC"}},
               "y": {"field": "v", "type": "quantitative", "scale": {"domain": [0, 25], "range": [255, 35]}, "axis": {"values": [0,5,10,15,20,25], "title": "MHz"}},
               "strokeDash": {"field": "s", "type": "nominal", "scale": {"domain": ["mid","hi","lo"], "range": [[1,0],[2,3],[8,3,2,3]]}, "legend": null},
               "strokeWidth": {"condition": {"test": "datum.s == 'mid'", "value": 1.2}, "value": 2}
             }},
            {"data": {"values": [{}]}, "mark": {"type": "point", "opacity": 0}, "encoding": {"x": {"datum": 0, "type": "quantitative", "axis": {"orient": "bottom", "values": [0,1,2,3,4,5,6,7,8,9,10,11,12,13,14,15,16,17,18,19,20,21,22,23,24], "labels": false, "domain": false, "tickSize": -3, "title": null}}, "y": {"datum": 0, "type": "quantitative", "axis": null}}},
            {"data": {"values": [{}]}, "mark": {"type": "point", "opacity": 0}, "encoding": {"x": {"datum": 0, "type": "quantitative", "axis": {"orient": "top", "title": "Perth-Port Moresby", "titleX": 5, "titleAlign": "left"}}, "y": {"datum": 0, "type": "quantitative", "axis": null}}},
            {"data": {"values": [{}]}, "mark": {"type": "point", "opacity": 0}, "encoding": {"x": {"datum": 0, "type": "quantitative", "axis": {"orient": "top", "title": "59", "titleX": 308, "titleAlign": "right"}}, "y": {"datum": 0, "type": "quantitative", "axis": null}}}
          ],
          "resolve": {"axis": {"x": "independent", "y": "independent"}}
        },
        {
          "width": 317, "height": 286,
          "layer": [
            {"data": {"name": "st"}, "mark": {"type": "line", "strokeCap": "butt"},
             "encoding": {
               "x": {"field": "h", "type": "quantitative", "scale": {"domain": [0, 24], "range": [45.5, 296.5]}, "axis": {"values": [0,1,2,3,4,5,6,7,8,9,10,11,12,13,14,15,16,17,18,19,20,21,22,23,24], "labelExpr": "datum.value % 6 == 0 ? datum.label : ''", "labelAlign": {"condition": {"test": "datum.value == 24", "value": "center"}, "value": "left"}, "title": "UTC"}},
               "y": {"field": "v", "type": "quantitative", "scale": {"domain": [0, 20], "range": [255, 35]}, "axis": {"values": [0,2,4,6,8,10,12,14,16,18,20], "title": "MHz"}},
               "strokeDash": {"field": "s", "type": "nominal", "scale": {"domain": ["mid","hi","lo"], "range": [[1,0],[2,3],[8,3,2,3]]}, "legend": null},
               "strokeWidth": {"condition": {"test": "datum.s == 'mid'", "value": 1.2}, "value": 2}
             }},
            {"data": {"values": [{}]}, "mark": {"type": "point", "opacity": 0}, "encoding": {"x": {"datum": 0, "type": "quantitative", "axis": {"orient": "bottom", "values": [0,1,2,3,4,5,6,7,8,9,10,11,12,13,14,15,16,17,18,19,20,21,22,23,24], "labels": false, "domain": false, "tickSize": -3, "title": null}}, "y": {"datum": 0, "type": "quantitative", "axis": null}}},
            {"data": {"values": [{}]}, "mark": {"type": "point", "opacity": 0}, "encoding": {"x": {"datum": 0, "type": "quantitative", "axis": {"orient": "top", "title": "Sydney-Stockholm", "titleX": 5, "titleAlign": "left"}}, "y": {"datum": 0, "type": "quantitative", "axis": null}}},
            {"data": {"values": [{}]}, "mark": {"type": "point", "opacity": 0}, "encoding": {"x": {"datum": 0, "type": "quantitative", "axis": {"orient": "top", "title": "324", "titleX": 308, "titleAlign": "right"}}, "y": {"datum": 0, "type": "quantitative", "axis": null}}}
          ],
          "resolve": {"axis": {"x": "independent", "y": "independent"}}
        }
      ]
    },
    {
      "spacing": 6,
      "hconcat": [
        {
          "width": 317, "height": 286,
          "layer": [
            {"data": {"name": "ll"}, "mark": {"type": "line", "strokeCap": "butt"},
             "encoding": {
               "x": {"field": "h", "type": "quantitative", "scale": {"domain": [0, 24], "range": [45.5, 296.5]}, "axis": {"values": [0,1,2,3,4,5,6,7,8,9,10,11,12,13,14,15,16,17,18,19,20,21,22,23,24], "labelExpr": "datum.value % 6 == 0 ? datum.label : ''", "labelAlign": {"condition": {"test": "datum.value == 24", "value": "center"}, "value": "left"}, "title": "UTC"}},
               "y": {"field": "v", "type": "quantitative", "scale": {"domain": [0, 25], "range": [255, 35]}, "axis": {"values": [0,5,10,15,20,25], "title": "MHz"}},
               "strokeDash": {"field": "s", "type": "nominal", "scale": {"domain": ["mid","hi","lo"], "range": [[1,0],[2,3],[8,3,2,3]]}, "legend": null},
               "strokeWidth": {"condition": {"test": "datum.s == 'mid'", "value": 1.2}, "value": 2}
             }},
            {"data": {"values": [{}]}, "mark": {"type": "text", "text": "long path", "font": "DejaVu Sans", "fontSize": 20, "align": "center", "baseline": "alphabetic", "color": "#111"},
             "encoding": {"x": {"datum": 10.7, "type": "quantitative", "axis": null}, "y": {"datum": 23.3, "type": "quantitative", "axis": null}}},
            {"data": {"values": [{}]}, "mark": {"type": "point", "opacity": 0}, "encoding": {"x": {"datum": 0, "type": "quantitative", "axis": {"orient": "bottom", "values": [0,1,2,3,4,5,6,7,8,9,10,11,12,13,14,15,16,17,18,19,20,21,22,23,24], "labels": false, "domain": false, "tickSize": -3, "title": null}}, "y": {"datum": 0, "type": "quantitative", "axis": null}}},
            {"data": {"values": [{}]}, "mark": {"type": "point", "opacity": 0}, "encoding": {"x": {"datum": 0, "type": "quantitative", "axis": {"orient": "top", "title": "Launceston-London", "titleX": 5, "titleAlign": "left"}}, "y": {"datum": 0, "type": "quantitative", "axis": null}}},
            {"data": {"values": [{}]}, "mark": {"type": "point", "opacity": 0}, "encoding": {"x": {"datum": 0, "type": "quantitative", "axis": {"orient": "top", "title": "160", "titleX": 308, "titleAlign": "right"}}, "y": {"datum": 0, "type": "quantitative", "axis": null}}}
          ],
          "resolve": {"axis": {"x": "independent", "y": "independent"}}
        },
        {
          "width": 317, "height": 286,
          "layer": [
            {"data": {"name": "pr"}, "mark": {"type": "line", "strokeCap": "butt"},
             "encoding": {
               "x": {"field": "h", "type": "quantitative", "scale": {"domain": [0, 24], "range": [45.5, 296.5]}, "axis": {"values": [0,1,2,3,4,5,6,7,8,9,10,11,12,13,14,15,16,17,18,19,20,21,22,23,24], "labelExpr": "datum.value % 6 == 0 ? datum.label : ''", "labelAlign": {"condition": {"test": "datum.value == 24", "value": "center"}, "value": "left"}, "title": "UTC"}},
               "y": {"field": "v", "type": "quantitative", "scale": {"domain": [0, 25], "range": [255, 35]}, "axis": {"values": [0,5,10,15,20,25], "title": "MHz"}},
               "strokeDash": {"field": "s", "type": "nominal", "scale": {"domain": ["mid","hi","lo"], "range": [[1,0],[2,3],[8,3,2,3]]}, "legend": null},
               "strokeWidth": {"condition": {"test": "datum.s == 'mid'", "value": 1.2}, "value": 2}
             }},
            {"data": {"values": [{}]}, "mark": {"type": "point", "opacity": 0}, "encoding": {"x": {"datum": 0, "type": "quantitative", "axis": {"orient": "bottom", "values": [0,1,2,3,4,5,6,7,8,9,10,11,12,13,14,15,16,17,18,19,20,21,22,23,24], "labels": false, "domain": false, "tickSize": -3, "title": null}}, "y": {"datum": 0, "type": "quantitative", "axis": null}}},
            {"data": {"values": [{}]}, "mark": {"type": "point", "opacity": 0}, "encoding": {"x": {"datum": 0, "type": "quantitative", "axis": {"orient": "top", "title": "Perth-Pretoria", "titleX": 5, "titleAlign": "left"}}, "y": {"datum": 0, "type": "quantitative", "axis": null}}},
            {"data": {"values": [{}]}, "mark": {"type": "point", "opacity": 0}, "encoding": {"x": {"datum": 0, "type": "quantitative", "axis": {"orient": "top", "title": "249", "titleX": 308, "titleAlign": "right"}}, "y": {"datum": 0, "type": "quantitative", "axis": null}}}
          ],
          "resolve": {"axis": {"x": "independent", "y": "independent"}}
        },
        {
          "width": 317, "height": 286,
          "layer": [
            {"data": {"name": "hh"}, "mark": {"type": "line", "strokeCap": "butt"},
             "encoding": {
               "x": {"field": "h", "type": "quantitative", "scale": {"domain": [0, 24], "range": [45.5, 296.5]}, "axis": {"values": [0,1,2,3,4,5,6,7,8,9,10,11,12,13,14,15,16,17,18,19,20,21,22,23,24], "labelExpr": "datum.value % 6 == 0 ? datum.label : ''", "labelAlign": {"condition": {"test": "datum.value == 24", "value": "center"}, "value": "left"}, "title": "UTC"}},
               "y": {"field": "v", "type": "quantitative", "scale": {"domain": [0, 25], "range": [255, 35]}, "axis": {"values": [0,5,10,15,20,25], "title": "MHz"}},
               "strokeDash": {"field": "s", "type": "nominal", "scale": {"domain": ["mid","hi","lo"], "range": [[1,0],[2,3],[8,3,2,3]]}, "legend": null},
               "strokeWidth": {"condition": {"test": "datum.s == 'mid'", "value": 1.2}, "value": 2}
             }},
            {"data": {"values": [{}]}, "mark": {"type": "point", "opacity": 0}, "encoding": {"x": {"datum": 0, "type": "quantitative", "axis": {"orient": "bottom", "values": [0,1,2,3,4,5,6,7,8,9,10,11,12,13,14,15,16,17,18,19,20,21,22,23,24], "labels": false, "domain": false, "tickSize": -3, "title": null}}, "y": {"datum": 0, "type": "quantitative", "axis": null}}},
            {"data": {"values": [{}]}, "mark": {"type": "point", "opacity": 0}, "encoding": {"x": {"datum": 0, "type": "quantitative", "axis": {"orient": "top", "title": "Hobart-Harare", "titleX": 5, "titleAlign": "left"}}, "y": {"datum": 0, "type": "quantitative", "axis": null}}},
            {"data": {"values": [{}]}, "mark": {"type": "point", "opacity": 0}, "encoding": {"x": {"datum": 0, "type": "quantitative", "axis": {"orient": "top", "title": "239", "titleX": 308, "titleAlign": "right"}}, "y": {"datum": 0, "type": "quantitative", "axis": null}}}
          ],
          "resolve": {"axis": {"x": "independent", "y": "independent"}}
        }
      ]
    },
    {
      "width": 972, "height": 21,
      "view": {"stroke": null},
      "data": {"values": [{}]},
      "mark": {"type": "point", "opacity": 0},
      "encoding": {
        "x": {"datum": 0, "type": "quantitative", "scale": {"domain": [0, 1], "range": [0, 972]},
              "axis": {"offset": 0, "values": [0, 1], "labelExpr": "datum.value == 0 ? 'Amateur Radio, March 1996' : '53'", "labelAlign": {"condition": {"test": "datum.value == 0", "value": "left"}, "value": "right"}, "labelLimit": 0, "ticks": false, "labelFont": "Liberation Sans", "labelFontWeight": "normal", "labelFontSize": 16, "labelPadding": 5, "domainWidth": 1, "title": null}}
      }
    }
  ],
  "spacing": 7,
  "config": {
    "font": "DejaVu Sans",
    "view": {"stroke": "#111", "strokeWidth": 1.4},
    "line": {"color": "#111"},
    "axis": {"grid": false, "domainColor": "#111", "tickColor": "#111", "labelColor": "#111", "titleColor": "#111", "labelFont": "DejaVu Sans", "titleFont": "DejaVu Sans", "labelFontSize": 15, "labelFontWeight": "bold", "titleFontWeight": "bold", "domainWidth": 1.3, "tickWidth": 1.2},
    "axisBottom": {"offset": -31, "labelFlush": false, "labelOverlap": false, "labelPadding": 2, "tickSize": 3, "titleX": 298, "titleY": -12, "titleAlign": "right", "titleBaseline": "alphabetic", "titleFontSize": 16},
    "axisLeft": {"offset": -45.5, "tickSize": 4, "labelPadding": 8, "titleAngle": 0, "titleAlign": "left", "titleBaseline": "alphabetic", "titleX": -8.5, "titleY": 22, "titleFontSize": 15},
    "axisTop": {"domain": false, "ticks": false, "labels": false, "titleY": -6, "titleBaseline": "alphabetic", "titleFontSize": 20.5, "titleFontWeight": "normal"}
  }
}
